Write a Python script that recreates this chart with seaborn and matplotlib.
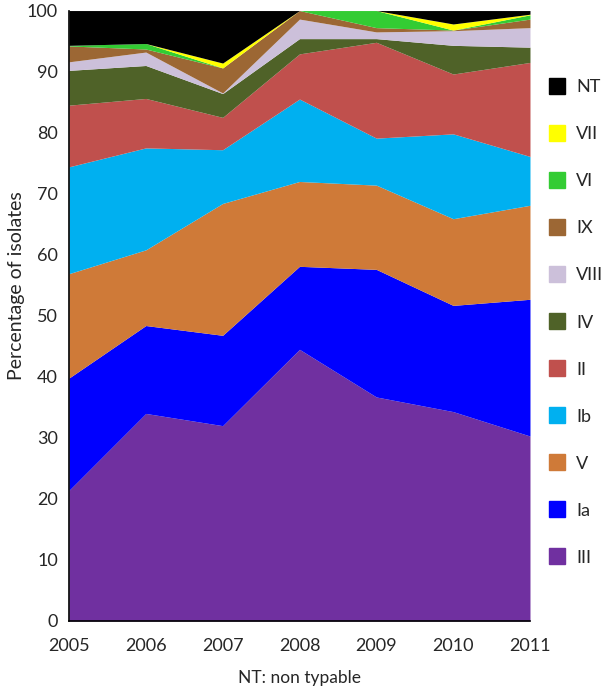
import matplotlib
matplotlib.use("Agg")
import matplotlib.pyplot as plt
from matplotlib.lines import Line2D
import seaborn as sns
import numpy as np
import pandas as pd

sns.set_style("white")
plt.rcParams['font.family'] = ['Lato', 'DejaVu Sans']

# data (percent per serotype, bottom to top)
years = [2005, 2006, 2007, 2008, 2009, 2010, 2011]
serotypes = ['III', 'Ia', 'V', 'Ib', 'II', 'IV', 'VIII', 'IX', 'VI', 'VII', 'NT']
iii = [21.4, 34.0, 32.0, 44.5, 36.7, 34.3, 30.3]
ia = [18.4, 14.4, 14.8, 13.6, 20.9, 17.4, 22.4]
v = [17.1, 12.4, 21.6, 13.9, 13.8, 14.2, 15.4]
ib = [17.5, 16.7, 8.8, 13.5, 7.7, 13.9, 8.0]
ii = [10.1, 8.1, 5.3, 7.4, 15.7, 9.8, 15.4]
iv = [5.7, 5.4, 3.9, 2.5, 0.6, 4.7, 2.5]
viii = [1.4, 2.2, 0.1, 3.2, 1.1, 2.4, 3.2]
ix = [2.6, 0.5, 4.1, 1.4, 0.7, 0.1, 1.4]
vi = [0.1, 0.9, 0.0, 0.0, 2.8, 0.0, 0.7]
vii = [0.0, 0.0, 0.8, 0.0, 0.0, 1.0, 0.1]
nt = [5.7, 5.4, 8.6, 0.0, 0.0, 2.2, 0.6]

colors = ['#7030A0', '#0000FF', '#CF7A38', '#00B0F0', '#C0504D', '#4F6228',
          '#CCC0DA', '#9C6734', '#33CC33', '#FFFF00', '#000000']

df = pd.DataFrame({'III': iii, 'Ia': ia, 'V': v, 'Ib': ib, 'II': ii, 'IV': iv,
                   'VIII': viii, 'IX': ix, 'VI': vi, 'VII': vii, 'NT': nt},
                  index=years)

fig = plt.figure(figsize=(6.05, 6.89), dpi=100)
ax = fig.add_axes([0.114, 0.0987, 0.762, 0.886])

ax.stackplot(df.index, [df[s] for s in serotypes], colors=colors, linewidth=0)

ax.set_xlim(2005, 2011)
ax.set_ylim(0, 100)
ax.set_xticks(years)
ax.set_yticks(range(0, 101, 10))
ax.tick_params(axis='y', labelsize=13, length=0, pad=8)
ax.tick_params(axis='x', labelsize=13, length=0, pad=12)
ax.set_ylabel('Percentage of isolates', fontsize=14)
ax.yaxis.set_label_coords(-0.095, 0.55)
ax.set_xlabel('NT: non typable', fontsize=12.5, labelpad=12)

sns.despine(ax=ax)
for side in ['left', 'bottom']:
    ax.spines[side].set_color('black')
    ax.spines[side].set_linewidth(1.2)

handles = [Line2D([], [], marker='s', linestyle='none', markersize=11,
                  markerfacecolor=c, markeredgecolor=c)
           for c in colors[::-1]]
fig.legend(handles, serotypes[::-1], loc='upper left',
           bbox_to_anchor=(0.905, 0.885), frameon=False, fontsize=13,
           handlelength=1.0, labelspacing=1.72, handletextpad=0.6,
           borderaxespad=0, borderpad=0)

fig.savefig('out.png', dpi=100)
